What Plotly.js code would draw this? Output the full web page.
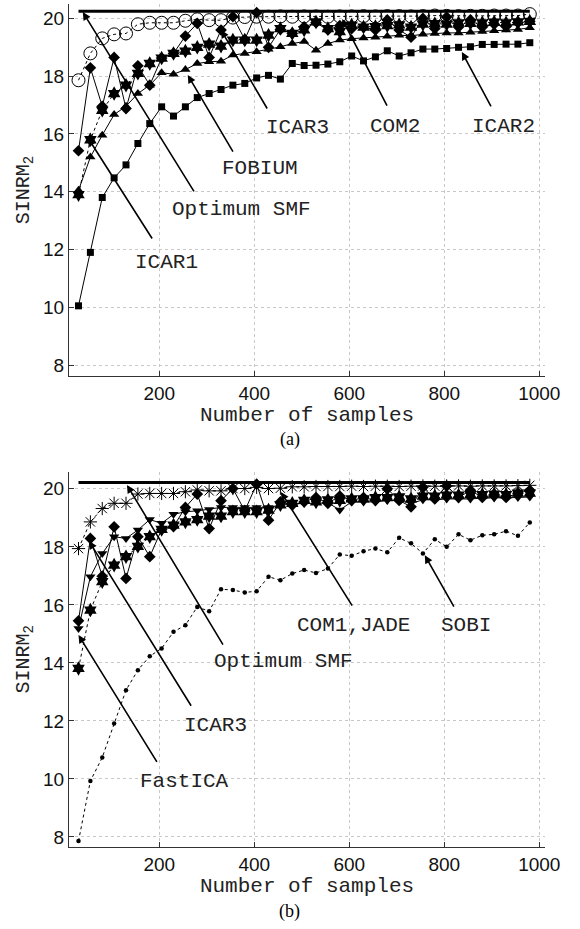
<!DOCTYPE html>
<html>
<head>
<meta charset="utf-8">
<script src="https://cdn.plot.ly/plotly-3.0.1.min.js"></script>
<style>html,body{margin:0;padding:0;background:#fff;}#chart{width:580px;height:929px;}</style>
</head>
<body>
<div id="chart"></div>
<script>
// ---------- data ----------
const samples = [30,55,80,105,130,155,180,205,230,255,280,305,330,355,380,405,430,455,480,505,530,555,580,605,630,655,680,705,730,755,780,805,830,855,880,905,930,955,980];

// (a)
const a_ICAR2 = [10.05,11.9,13.8,14.48,14.93,15.67,16.36,16.94,16.62,16.94,17.26,17.4,17.54,17.69,17.75,17.94,18.03,17.9,18.44,18.37,18.38,18.42,18.5,18.7,18.53,18.67,18.88,18.7,18.81,18.94,18.94,18.96,19.0,19.02,19.1,19.1,19.11,19.11,19.16];
const a_COM2  = [17.86,18.79,19.31,19.45,19.48,19.8,19.85,19.85,19.85,19.92,19.97,19.94,19.94,20.03,20.05,20.06,20.06,20.07,20.06,20.07,20.07,20.06,20.07,20.07,20.08,20.07,20.08,20.08,20.07,20.08,20.1,20.09,20.08,20.09,20.09,20.1,20.1,20.1,20.15];
const a_ICAR3 = [15.42,18.29,16.96,18.65,16.88,18.36,17.69,18.63,18.79,19.39,19.83,18.65,19.6,20.06,19.27,20.2,19.0,19.62,19.48,19.71,19.85,19.6,19.75,19.65,19.7,19.6,19.95,19.6,19.35,20.0,19.65,20.05,19.7,19.95,19.7,19.8,19.72,19.85,19.9];
const a_FOBIUM = [14.05,15.2,15.96,16.67,16.96,17.4,17.69,18.12,18.07,18.23,18.44,18.5,18.52,18.73,18.79,18.85,18.93,19.02,19.13,19.2,18.9,19.13,19.25,19.3,19.32,19.35,19.38,19.42,19.4,19.45,19.48,19.5,19.5,19.52,19.55,19.57,19.6,19.62,19.68];
const a_ICAR1 = [13.9,15.8,16.82,17.4,17.69,18.1,18.44,18.63,18.79,18.87,19.0,19.11,19.04,19.25,19.25,19.25,19.42,19.65,19.48,19.6,19.88,19.65,19.54,19.77,19.7,19.72,19.75,19.78,19.7,19.8,19.82,19.8,19.85,19.83,19.85,19.87,19.85,19.88,19.9];
const a_optX = [30,980];
const a_optY = [20.25,20.25];

// (b)
const b_COM1 = [17.94,18.86,19.32,19.5,19.5,19.82,19.84,19.84,19.84,19.9,19.96,19.93,19.93,20.01,20.01,20.05,20.01,20.02,20.07,20.07,20.08,20.08,20.08,20.09,20.08,20.09,20.09,20.08,20.09,20.1,20.09,20.1,20.1,20.09,20.1,20.1,20.1,20.11,20.12];
const b_JADE = [13.81,15.82,16.8,17.37,17.66,18.02,18.35,18.6,18.75,18.86,18.94,19.06,19.06,19.21,19.21,19.21,19.27,19.45,19.5,19.6,19.55,19.62,19.6,19.65,19.65,19.7,19.7,19.72,19.65,19.75,19.75,19.78,19.78,19.8,19.8,19.82,19.8,19.85,19.85];
const b_ICAR3 = [15.45,18.29,16.99,18.69,16.91,18.35,17.66,18.6,18.7,19.36,19.82,18.63,19.59,20.01,19.24,20.16,18.92,19.55,19.44,19.55,19.7,19.5,19.75,19.6,19.7,19.6,20.0,19.6,19.38,20.05,19.65,20.1,19.7,19.95,19.7,19.8,19.7,19.85,19.95];
const b_FastICA = [15.19,16.97,17.77,18.35,18.29,18.58,18.94,18.81,19.12,19.21,19.24,19.29,19.36,19.36,19.36,19.36,19.36,19.44,19.47,19.5,19.5,19.52,19.27,19.55,19.55,19.55,19.6,19.6,19.5,19.62,19.62,19.65,19.65,19.65,19.68,19.68,19.7,19.7,19.72];
const b_SOBI = [7.86,9.93,10.74,11.91,13.06,13.75,14.23,14.5,15.07,15.3,15.93,15.78,16.54,16.51,16.43,16.47,16.97,16.85,17.08,17.2,17.1,17.25,17.74,17.69,17.85,17.94,17.81,18.31,18.12,17.77,18.26,18.0,18.43,18.23,18.4,18.43,18.54,18.38,18.84];
const b_optX = [30,980];
const b_optY = [20.22,20.22];

const xTicks = [200,400,600,800,1000];
const yTicks = [8,10,12,14,16,18,20];

// ---------- traces ----------
function tr(x, y, xa, ya, symbol, size, dash, open) {
  const m = {symbol: symbol, size: size, color: '#000'};
  if (open) m.line = {color: '#000', width: 1};
  return {x: x, y: y, xaxis: xa, yaxis: ya, type: 'scatter',
          mode: 'lines+markers',
          line: {color: '#000', width: 1, dash: dash},
          marker: m, showlegend: false, hoverinfo: 'skip'};
}
const traces = [];
traces.push(tr(samples, a_ICAR2, 'x', 'y', 'square', 7, 'solid'));
traces.push(tr(samples, a_FOBIUM, 'x', 'y', 'triangle-up', 9, 'solid'));
traces.push(tr(samples, a_ICAR1, 'x', 'y', 'hexagram', 11, 'dot'));
traces.push(tr(samples, a_ICAR3, 'x', 'y', 'diamond', 9, 'solid'));
traces.push(tr(samples, a_COM2, 'x', 'y', 'circle-open', 13, 'dot', true));
traces.push({x: a_optX, y: a_optY, xaxis: 'x', yaxis: 'y', type: 'scatter', mode: 'lines',
             line: {color: '#000', width: 3}, showlegend: false, hoverinfo: 'skip'});

traces.push(tr(samples, b_SOBI, 'x2', 'y2', 'circle', 4.5, 'dot'));
traces.push(tr(samples, b_JADE, 'x2', 'y2', 'hexagram', 11, 'dot'));
traces.push(tr(samples, b_FastICA, 'x2', 'y2', 'triangle-down', 9, 'solid'));
traces.push(tr(samples, b_ICAR3, 'x2', 'y2', 'diamond', 9, 'solid'));
traces.push(tr(samples, b_COM1, 'x2', 'y2', 'asterisk-open', 11, 'dot', true));
traces.push({x: b_optX, y: b_optY, xaxis: 'x2', yaxis: 'y2', type: 'scatter', mode: 'lines',
             line: {color: '#000', width: 3}, showlegend: false, hoverinfo: 'skip'});

// ---------- layout ----------
const tickFont = {family: 'Liberation Sans, Arial, sans-serif', size: 19, color: '#111'};
const monoFont = {family: 'Liberation Mono, Courier New, monospace', size: 21, color: '#222'};

function xaxis(anchor) {
  return {anchor: anchor, range: [10, 1012], tickvals: xTicks, ticks: 'inside', ticklen: 5,
          tickcolor: '#333', showline: true, linecolor: '#333', linewidth: 1, mirror: false,
          showgrid: true, gridcolor: '#c8c8c8', griddash: 'dot', gridwidth: 1, zeroline: false,
          tickfont: tickFont, ticklabelstandoff: 0,
          title: {text: 'Number of samples', font: monoFont, standoff: 0}};
}
function yaxis(anchor, domain, range) {
  return {anchor: anchor, domain: domain, range: range, tickvals: yTicks, ticks: 'inside', ticklen: 5,
          tickcolor: '#333', showline: true, linecolor: '#333', linewidth: 1, mirror: false,
          showgrid: true, gridcolor: '#c8c8c8', griddash: 'dot', gridwidth: 1, zeroline: false,
          tickfont: tickFont, ticklabelstandoff: 0,
          title: {text: 'SINRM<sub>2</sub>', font: {family: monoFont.family, size: 20, color: '#222'}, standoff: 8}};
}

function arrow(xr, yr, tx, ty, sx, sy) {
  return {xref: xr, yref: yr, axref: xr, ayref: yr, x: tx, y: ty, ax: sx, ay: sy,
          text: '', showarrow: true, arrowhead: 2, arrowsize: 1, arrowwidth: 1.6,
          arrowcolor: '#000', standoff: 0, startstandoff: 0};
}
function label(xr, yr, x, y, t) {
  return {xref: xr, yref: yr, x: x, y: y, text: t, showarrow: false, font: monoFont,
          xanchor: 'center', yanchor: 'middle'};
}

const annotations = [
  // (a)
  arrow('x', 'y', 39, 20.22, 275, 13.96), label('x', 'y', 374, 13.4, 'Optimum SMF'),
  arrow('x', 'y', 50, 15.86, 187, 12.33), label('x', 'y', 216, 11.56, 'ICAR1'),
  arrow('x', 'y', 260, 18.04, 357, 15.34), label('x', 'y', 411, 14.8, 'FOBIUM'),
  arrow('x', 'y', 330, 19.6, 429, 16.83), label('x', 'y', 490, 16.24, 'ICAR3'),
  arrow('x', 'y', 585, 19.98, 681, 16.93), label('x', 'y', 696, 16.27, 'COM2'),
  arrow('x', 'y', 837, 18.84, 900, 16.9), label('x', 'y', 924, 16.27, 'ICAR2'),
  // (b)
  arrow('x2', 'y2', 132, 20.13, 336, 14.58), label('x2', 'y2', 461, 14.06, 'Optimum SMF'),
  arrow('x2', 'y2', 52, 18.2, 269, 12.47), label('x2', 'y2', 318, 11.84, 'ICAR3'),
  arrow('x2', 'y2', 30, 14.96, 197, 10.54), label('x2', 'y2', 253, 9.9, 'FastICA'),
  arrow('x2', 'y2', 456, 19.89, 608, 15.92), label('x2', 'y2', 608, 15.3, 'COM1,JADE'),
  arrow('x2', 'y2', 759, 17.71, 822, 15.89), label('x2', 'y2', 846, 15.3, 'SOBI'),
  // captions
  {xref: 'paper', yref: 'paper', x: 0.464, y: 0.4828, text: '(a)', showarrow: false,
   xanchor: 'center', yanchor: 'middle',
   font: {family: 'Liberation Serif, Times New Roman, serif', size: 18, color: '#000'}},
  {xref: 'paper', yref: 'paper', x: 0.464, y: -0.0771, text: '(b)', showarrow: false,
   xanchor: 'center', yanchor: 'middle',
   font: {family: 'Liberation Serif, Times New Roman, serif', size: 18, color: '#000'}}
];

const layout = {
  width: 580, height: 929,
  margin: {l: 69, r: 35, t: 4, b: 82},
  paper_bgcolor: '#fff', plot_bgcolor: '#fff',
  showlegend: false,
  xaxis: xaxis('y'),
  yaxis: yaxis('x', [0.5587, 1.0], [7.62, 20.5]),
  xaxis2: xaxis('y2'),
  yaxis2: yaxis('x2', [0, 0.4452], [7.655, 20.59]),
  annotations: annotations
};

Plotly.newPlot('chart', traces, layout, {staticPlot: true, displayModeBar: false});
</script>
</body>
</html>
